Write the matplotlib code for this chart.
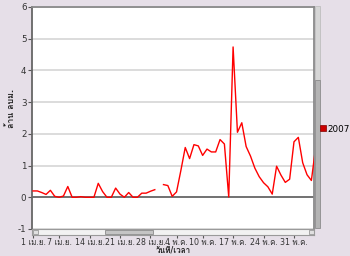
import numpy as np
import pandas as pd
import matplotlib
matplotlib.use("Agg")
import matplotlib.pyplot as plt
import matplotlib.dates as mdates
from matplotlib.patches import Rectangle
from matplotlib import font_manager as fm
from matplotlib.ft2font import FT2Font

# ---------------- data ----------------
start_date = "2007-04-01"
series_name = "2007"
values = [0.20, 0.20, 0.15, 0.09, 0.22, 0.03, 0.00, 0.04, 0.34, 0.00,
          0.00, 0.02, 0.00, 0.00, 0.00, 0.44, 0.18, 0.00, 0.00, 0.29,
          0.10, 0.00, 0.15, 0.00, 0.00, 0.13, 0.13, 0.19, 0.24, np.nan,
          0.40, 0.37, 0.03, 0.17, 0.85, 1.57, 1.22, 1.66, 1.62, 1.32,
          1.52, 1.43, 1.43, 1.82, 1.68, 0.01, 4.74, 2.05, 2.35, 1.60,
          1.30, 0.92, 0.65, 0.46, 0.33, 0.10, 0.98, 0.70, 0.47, 0.57,
          1.75, 1.89, 1.09, 0.71, 0.53, 1.60]
tick_dates = ["2007-04-01", "2007-04-07", "2007-04-14", "2007-04-21", "2007-04-28",
              "2007-05-04", "2007-05-10", "2007-05-17", "2007-05-24", "2007-05-31"]
tick_labels = ["1 เม.ย.", "7 เม.ย.", "14 เม.ย.", "21 เม.ย.", "28 เม.ย.",
               "4 พ.ค.", "10 พ.ค.", "17 พ.ค.", "24 พ.ค.", "31 พ.ค."]
y_ticks = [-1, 0, 1, 2, 3, 4, 5, 6]
x_title = "วันที่/เวลา"
y_title = "ล้าน ลบม."

# ---------------- fonts (find one with Thai glyphs) ----------------
thai_family = None
preferred = []
for f in fm.fontManager.ttflist:
    try:
        cmap = FT2Font(f.fname).get_charmap()
    except Exception:
        continue
    if 0x0E25 in cmap and 0x0E1A in cmap and 0x0E32 in cmap:
        preferred.append(f.name)
if preferred:
    for cand in preferred:
        if "Sans" in cand or "Loma" in cand or "Tahoma" in cand:
            thai_family = cand
            break
    if thai_family is None:
        thai_family = preferred[0]
fams = ["DejaVu Sans"] + ([thai_family] if thai_family and thai_family != "DejaVu Sans" else [])
plt.rcParams["font.family"] = fams

bg = "#e6dfe8"
dates = pd.date_range(start_date, periods=len(values))
x = mdates.date2num(dates.to_pydatetime())
x0 = mdates.date2num(pd.Timestamp(start_date).to_pydatetime())

W, H = 350, 256
fig = plt.figure(figsize=(W / 100, H / 100), dpi=100, facecolor=bg)

L, R, T, B = 32, 314, 7, 229
ax = fig.add_axes([L / W, 1 - B / H, (R - L) / W, (B - T) / H])
ax.set_facecolor("white")
ax.plot(x, values, color="#ff0000", lw=1.0, zorder=3)
ax.set_xlim(x0 - 0.23, x0 + 64.6)
ax.set_ylim(-1, 6)
ax.set_yticks(y_ticks)
ax.set_yticklabels([str(v) for v in y_ticks], fontsize=6.3, color="#333333")
ax.tick_params(axis="y", length=3, width=0.8, color="#555555", pad=1)
ax.set_xticks([])
ax.grid(axis="y", color="#dcdcdc", lw=1.4, zorder=1)
ax.axhline(0, color="#555555", lw=1.1, zorder=2)
for s in ["top", "right"]:
    ax.spines[s].set_color("#8a8a8a")
    ax.spines[s].set_linewidth(1.3)
ax.spines["left"].set_color("#666666")
ax.spines["left"].set_linewidth(1.3)
ax.spines["bottom"].set_visible(False)

# horizontal scrollbar axis carrying the date ticks
sb = fig.add_axes([L / W, 1 - 235 / H, (R - L) / W, 6 / H])
sb.set_xlim(ax.get_xlim())
sb.set_ylim(0, 1)
sb.set_facecolor("#f2f2f2")
for s in sb.spines.values():
    s.set_color("#9a9a9a")
    s.set_linewidth(0.8)
sb.set_yticks([])
td = mdates.date2num(pd.to_datetime(tick_dates).to_pydatetime())
sb.set_xticks(td)
sb.set_xticklabels(tick_labels, fontsize=5.7, color="#333333")
sb.tick_params(axis="x", length=2.2, width=0.8, color="#555555", pad=0.3)
px = (ax.get_xlim()[1] - ax.get_xlim()[0]) / (R - L)
sb.add_patch(Rectangle((ax.get_xlim()[0] + (105 - L) * px, 0.1), 48 * px, 0.8,
                       facecolor="#c4c4c4", edgecolor="#8a8a8a", lw=0.6))
sb.add_patch(Rectangle((ax.get_xlim()[0] + 0.5 * px, 0.1), 5 * px, 0.8,
                       facecolor="#e0e0e0", edgecolor="#8a8a8a", lw=0.5))
sb.add_patch(Rectangle((ax.get_xlim()[1] - 5.5 * px, 0.1), 5 * px, 0.8,
                       facecolor="#e0e0e0", edgecolor="#8a8a8a", lw=0.5))

# vertical scrollbar at the right
fig.patches.append(Rectangle((315 / W, 1 - 80 / H), 5 / W, 74 / H,
                             transform=fig.transFigure, facecolor="#d6d6d6",
                             edgecolor="#b8b8b8", lw=0.5))
fig.patches.append(Rectangle((315 / W, 1 - 228 / H), 5 / W, 148 / H,
                             transform=fig.transFigure, facecolor="#b4b4b4",
                             edgecolor="#8c8c8c", lw=0.6))

# titles
fig.text(173 / W, 1 - 255.6 / H, x_title, fontsize=5.8, fontweight="bold",
         ha="center", va="bottom", color="#222222")
fig.text(11 / W, 1 - 108 / H, y_title, fontsize=6.3, fontweight="bold",
         rotation=90, ha="center", va="center", color="#222222")

# legend
fig.legend(handles=[plt.Line2D([], [], color="#cc0000", marker="s", ls="none",
                               markersize=4, markeredgecolor="#800000",
                               markeredgewidth=0.5)],
           labels=[series_name], loc="center left",
           bbox_to_anchor=(319 / W, 1 - 129 / H), frameon=False,
           fontsize=6.3, handletextpad=0.2, borderpad=0, handlelength=0.8,
           borderaxespad=0)

fig.savefig("out.png", dpi=100, facecolor=bg)
